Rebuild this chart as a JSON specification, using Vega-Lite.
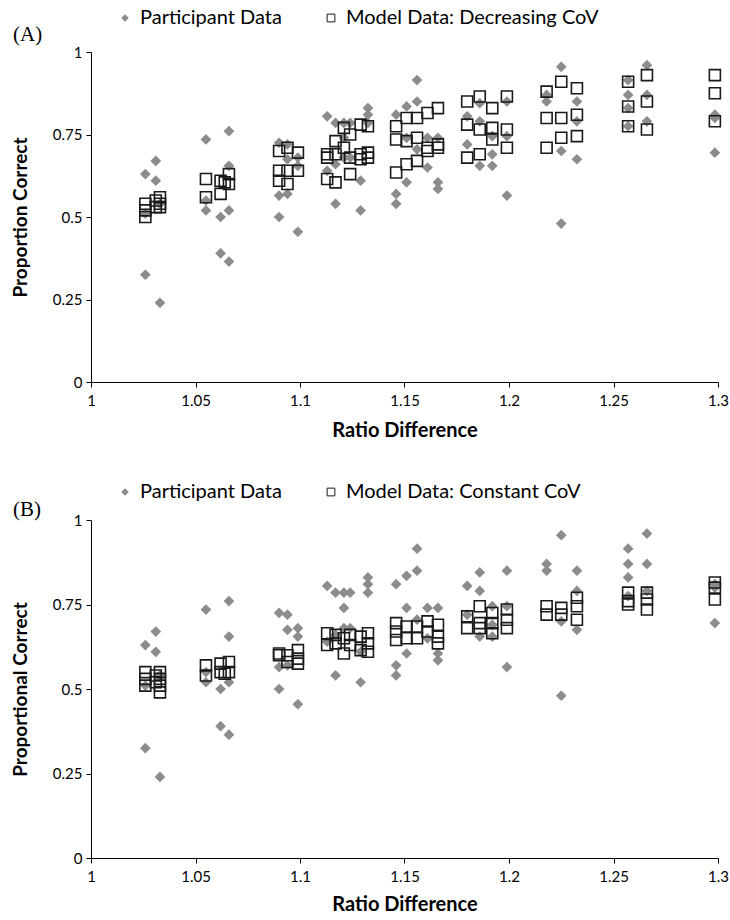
{
  "$schema": "https://vega.github.io/schema/vega-lite/v6.json",
  "padding": {"left": 11, "top": 8, "right": 10, "bottom": 4},
  "spacing": 42,
  "datasets": {
    "participants": [
      {"x":1.026,"y":0.63,"s":"Participant Data"},{"x":1.026,"y":0.325,"s":"Participant Data"},{"x":1.026,"y":0.51,"s":"Participant Data"},
      {"x":1.031,"y":0.67,"s":"Participant Data"},{"x":1.031,"y":0.61,"s":"Participant Data"},
      {"x":1.033,"y":0.24,"s":"Participant Data"},{"x":1.033,"y":0.54,"s":"Participant Data"},
      {"x":1.055,"y":0.735,"s":"Participant Data"},{"x":1.055,"y":0.52,"s":"Participant Data"},{"x":1.055,"y":0.55,"s":"Participant Data"},
      {"x":1.062,"y":0.5,"s":"Participant Data"},{"x":1.062,"y":0.39,"s":"Participant Data"},
      {"x":1.066,"y":0.76,"s":"Participant Data"},{"x":1.066,"y":0.365,"s":"Participant Data"},{"x":1.066,"y":0.52,"s":"Participant Data"},{"x":1.066,"y":0.655,"s":"Participant Data"},
      {"x":1.09,"y":0.725,"s":"Participant Data"},{"x":1.09,"y":0.565,"s":"Participant Data"},{"x":1.09,"y":0.5,"s":"Participant Data"},
      {"x":1.094,"y":0.72,"s":"Participant Data"},{"x":1.094,"y":0.675,"s":"Participant Data"},{"x":1.094,"y":0.57,"s":"Participant Data"},
      {"x":1.099,"y":0.455,"s":"Participant Data"},{"x":1.099,"y":0.68,"s":"Participant Data"},{"x":1.099,"y":0.655,"s":"Participant Data"},
      {"x":1.113,"y":0.805,"s":"Participant Data"},{"x":1.113,"y":0.64,"s":"Participant Data"},
      {"x":1.117,"y":0.785,"s":"Participant Data"},{"x":1.117,"y":0.54,"s":"Participant Data"},{"x":1.117,"y":0.66,"s":"Participant Data"},
      {"x":1.121,"y":0.785,"s":"Participant Data"},{"x":1.121,"y":0.74,"s":"Participant Data"},{"x":1.121,"y":0.68,"s":"Participant Data"},
      {"x":1.124,"y":0.785,"s":"Participant Data"},{"x":1.124,"y":0.68,"s":"Participant Data"},
      {"x":1.129,"y":0.52,"s":"Participant Data"},{"x":1.129,"y":0.61,"s":"Participant Data"},
      {"x":1.1325,"y":0.83,"s":"Participant Data"},{"x":1.1325,"y":0.81,"s":"Participant Data"},{"x":1.1325,"y":0.785,"s":"Participant Data"},
      {"x":1.146,"y":0.81,"s":"Participant Data"},{"x":1.146,"y":0.57,"s":"Participant Data"},{"x":1.146,"y":0.54,"s":"Participant Data"},
      {"x":1.151,"y":0.835,"s":"Participant Data"},{"x":1.151,"y":0.74,"s":"Participant Data"},{"x":1.151,"y":0.605,"s":"Participant Data"},
      {"x":1.156,"y":0.915,"s":"Participant Data"},{"x":1.156,"y":0.85,"s":"Participant Data"},{"x":1.156,"y":0.705,"s":"Participant Data"},
      {"x":1.161,"y":0.74,"s":"Participant Data"},{"x":1.161,"y":0.65,"s":"Participant Data"},
      {"x":1.166,"y":0.74,"s":"Participant Data"},{"x":1.166,"y":0.605,"s":"Participant Data"},{"x":1.166,"y":0.585,"s":"Participant Data"},
      {"x":1.18,"y":0.805,"s":"Participant Data"},{"x":1.18,"y":0.72,"s":"Participant Data"},
      {"x":1.186,"y":0.845,"s":"Participant Data"},{"x":1.186,"y":0.79,"s":"Participant Data"},{"x":1.186,"y":0.655,"s":"Participant Data"},
      {"x":1.192,"y":0.745,"s":"Participant Data"},{"x":1.192,"y":0.69,"s":"Participant Data"},{"x":1.192,"y":0.655,"s":"Participant Data"},
      {"x":1.199,"y":0.85,"s":"Participant Data"},{"x":1.199,"y":0.745,"s":"Participant Data"},{"x":1.199,"y":0.565,"s":"Participant Data"},
      {"x":1.218,"y":0.87,"s":"Participant Data"},{"x":1.218,"y":0.85,"s":"Participant Data"},
      {"x":1.225,"y":0.955,"s":"Participant Data"},{"x":1.225,"y":0.7,"s":"Participant Data"},{"x":1.225,"y":0.48,"s":"Participant Data"},
      {"x":1.2325,"y":0.85,"s":"Participant Data"},{"x":1.2325,"y":0.79,"s":"Participant Data"},{"x":1.2325,"y":0.675,"s":"Participant Data"},
      {"x":1.257,"y":0.915,"s":"Participant Data"},{"x":1.257,"y":0.87,"s":"Participant Data"},{"x":1.257,"y":0.83,"s":"Participant Data"},{"x":1.257,"y":0.775,"s":"Participant Data"},
      {"x":1.266,"y":0.96,"s":"Participant Data"},{"x":1.266,"y":0.87,"s":"Participant Data"},{"x":1.266,"y":0.79,"s":"Participant Data"},
      {"x":1.2985,"y":0.81,"s":"Participant Data"},{"x":1.2985,"y":0.8,"s":"Participant Data"},{"x":1.2985,"y":0.695,"s":"Participant Data"}
    ],
    "modelA": [
      {"x":1.026,"y":0.54,"s":"Model Data: Decreasing CoV"},{"x":1.026,"y":0.52,"s":"Model Data: Decreasing CoV"},{"x":1.026,"y":0.5,"s":"Model Data: Decreasing CoV"},
      {"x":1.031,"y":0.55,"s":"Model Data: Decreasing CoV"},{"x":1.031,"y":0.53,"s":"Model Data: Decreasing CoV"},
      {"x":1.033,"y":0.56,"s":"Model Data: Decreasing CoV"},{"x":1.033,"y":0.53,"s":"Model Data: Decreasing CoV"},{"x":1.033,"y":0.54,"s":"Model Data: Decreasing CoV"},
      {"x":1.055,"y":0.615,"s":"Model Data: Decreasing CoV"},{"x":1.055,"y":0.56,"s":"Model Data: Decreasing CoV"},
      {"x":1.062,"y":0.61,"s":"Model Data: Decreasing CoV"},{"x":1.062,"y":0.57,"s":"Model Data: Decreasing CoV"},
      {"x":1.064,"y":0.605,"s":"Model Data: Decreasing CoV"},
      {"x":1.066,"y":0.63,"s":"Model Data: Decreasing CoV"},{"x":1.066,"y":0.6,"s":"Model Data: Decreasing CoV"},
      {"x":1.09,"y":0.7,"s":"Model Data: Decreasing CoV"},{"x":1.09,"y":0.64,"s":"Model Data: Decreasing CoV"},{"x":1.09,"y":0.61,"s":"Model Data: Decreasing CoV"},
      {"x":1.094,"y":0.71,"s":"Model Data: Decreasing CoV"},{"x":1.094,"y":0.64,"s":"Model Data: Decreasing CoV"},{"x":1.094,"y":0.6,"s":"Model Data: Decreasing CoV"},
      {"x":1.099,"y":0.695,"s":"Model Data: Decreasing CoV"},{"x":1.099,"y":0.64,"s":"Model Data: Decreasing CoV"},
      {"x":1.113,"y":0.69,"s":"Model Data: Decreasing CoV"},{"x":1.113,"y":0.68,"s":"Model Data: Decreasing CoV"},{"x":1.113,"y":0.615,"s":"Model Data: Decreasing CoV"},
      {"x":1.117,"y":0.73,"s":"Model Data: Decreasing CoV"},{"x":1.117,"y":0.69,"s":"Model Data: Decreasing CoV"},{"x":1.117,"y":0.605,"s":"Model Data: Decreasing CoV"},
      {"x":1.121,"y":0.77,"s":"Model Data: Decreasing CoV"},{"x":1.121,"y":0.71,"s":"Model Data: Decreasing CoV"},
      {"x":1.124,"y":0.75,"s":"Model Data: Decreasing CoV"},{"x":1.124,"y":0.68,"s":"Model Data: Decreasing CoV"},{"x":1.124,"y":0.63,"s":"Model Data: Decreasing CoV"},
      {"x":1.129,"y":0.78,"s":"Model Data: Decreasing CoV"},{"x":1.129,"y":0.69,"s":"Model Data: Decreasing CoV"},{"x":1.129,"y":0.675,"s":"Model Data: Decreasing CoV"},
      {"x":1.1325,"y":0.775,"s":"Model Data: Decreasing CoV"},{"x":1.1325,"y":0.695,"s":"Model Data: Decreasing CoV"},{"x":1.1325,"y":0.68,"s":"Model Data: Decreasing CoV"},
      {"x":1.146,"y":0.775,"s":"Model Data: Decreasing CoV"},{"x":1.146,"y":0.735,"s":"Model Data: Decreasing CoV"},{"x":1.146,"y":0.635,"s":"Model Data: Decreasing CoV"},
      {"x":1.151,"y":0.8,"s":"Model Data: Decreasing CoV"},{"x":1.151,"y":0.73,"s":"Model Data: Decreasing CoV"},{"x":1.151,"y":0.66,"s":"Model Data: Decreasing CoV"},
      {"x":1.156,"y":0.8,"s":"Model Data: Decreasing CoV"},{"x":1.156,"y":0.74,"s":"Model Data: Decreasing CoV"},{"x":1.156,"y":0.67,"s":"Model Data: Decreasing CoV"},
      {"x":1.161,"y":0.815,"s":"Model Data: Decreasing CoV"},{"x":1.161,"y":0.71,"s":"Model Data: Decreasing CoV"},{"x":1.161,"y":0.7,"s":"Model Data: Decreasing CoV"},
      {"x":1.166,"y":0.83,"s":"Model Data: Decreasing CoV"},{"x":1.166,"y":0.72,"s":"Model Data: Decreasing CoV"},{"x":1.166,"y":0.71,"s":"Model Data: Decreasing CoV"},
      {"x":1.18,"y":0.85,"s":"Model Data: Decreasing CoV"},{"x":1.18,"y":0.78,"s":"Model Data: Decreasing CoV"},{"x":1.18,"y":0.68,"s":"Model Data: Decreasing CoV"},
      {"x":1.186,"y":0.865,"s":"Model Data: Decreasing CoV"},{"x":1.186,"y":0.765,"s":"Model Data: Decreasing CoV"},{"x":1.186,"y":0.69,"s":"Model Data: Decreasing CoV"},
      {"x":1.192,"y":0.83,"s":"Model Data: Decreasing CoV"},{"x":1.192,"y":0.77,"s":"Model Data: Decreasing CoV"},{"x":1.192,"y":0.735,"s":"Model Data: Decreasing CoV"},
      {"x":1.199,"y":0.865,"s":"Model Data: Decreasing CoV"},{"x":1.199,"y":0.765,"s":"Model Data: Decreasing CoV"},{"x":1.199,"y":0.71,"s":"Model Data: Decreasing CoV"},
      {"x":1.218,"y":0.88,"s":"Model Data: Decreasing CoV"},{"x":1.218,"y":0.8,"s":"Model Data: Decreasing CoV"},{"x":1.218,"y":0.71,"s":"Model Data: Decreasing CoV"},
      {"x":1.225,"y":0.91,"s":"Model Data: Decreasing CoV"},{"x":1.225,"y":0.8,"s":"Model Data: Decreasing CoV"},{"x":1.225,"y":0.74,"s":"Model Data: Decreasing CoV"},
      {"x":1.2325,"y":0.89,"s":"Model Data: Decreasing CoV"},{"x":1.2325,"y":0.81,"s":"Model Data: Decreasing CoV"},{"x":1.2325,"y":0.745,"s":"Model Data: Decreasing CoV"},
      {"x":1.257,"y":0.91,"s":"Model Data: Decreasing CoV"},{"x":1.257,"y":0.835,"s":"Model Data: Decreasing CoV"},{"x":1.257,"y":0.775,"s":"Model Data: Decreasing CoV"},
      {"x":1.266,"y":0.93,"s":"Model Data: Decreasing CoV"},{"x":1.266,"y":0.85,"s":"Model Data: Decreasing CoV"},{"x":1.266,"y":0.765,"s":"Model Data: Decreasing CoV"},
      {"x":1.2985,"y":0.93,"s":"Model Data: Decreasing CoV"},{"x":1.2985,"y":0.875,"s":"Model Data: Decreasing CoV"},{"x":1.2985,"y":0.79,"s":"Model Data: Decreasing CoV"}
    ],
    "modelB": [
      {"x":1.026,"y":0.55,"s":"Model Data: Constant CoV"},{"x":1.026,"y":0.53,"s":"Model Data: Constant CoV"},{"x":1.026,"y":0.51,"s":"Model Data: Constant CoV"},
      {"x":1.031,"y":0.54,"s":"Model Data: Constant CoV"},{"x":1.031,"y":0.52,"s":"Model Data: Constant CoV"},
      {"x":1.033,"y":0.55,"s":"Model Data: Constant CoV"},{"x":1.033,"y":0.53,"s":"Model Data: Constant CoV"},{"x":1.033,"y":0.51,"s":"Model Data: Constant CoV"},{"x":1.033,"y":0.49,"s":"Model Data: Constant CoV"},
      {"x":1.055,"y":0.57,"s":"Model Data: Constant CoV"},{"x":1.055,"y":0.54,"s":"Model Data: Constant CoV"},
      {"x":1.062,"y":0.575,"s":"Model Data: Constant CoV"},{"x":1.062,"y":0.55,"s":"Model Data: Constant CoV"},
      {"x":1.064,"y":0.545,"s":"Model Data: Constant CoV"},
      {"x":1.066,"y":0.58,"s":"Model Data: Constant CoV"},{"x":1.066,"y":0.55,"s":"Model Data: Constant CoV"},
      {"x":1.09,"y":0.605,"s":"Model Data: Constant CoV"},{"x":1.09,"y":0.6,"s":"Model Data: Constant CoV"},
      {"x":1.094,"y":0.6,"s":"Model Data: Constant CoV"},{"x":1.094,"y":0.58,"s":"Model Data: Constant CoV"},
      {"x":1.099,"y":0.615,"s":"Model Data: Constant CoV"},{"x":1.099,"y":0.59,"s":"Model Data: Constant CoV"},{"x":1.099,"y":0.575,"s":"Model Data: Constant CoV"},
      {"x":1.113,"y":0.665,"s":"Model Data: Constant CoV"},{"x":1.113,"y":0.63,"s":"Model Data: Constant CoV"},
      {"x":1.117,"y":0.66,"s":"Model Data: Constant CoV"},{"x":1.117,"y":0.635,"s":"Model Data: Constant CoV"},
      {"x":1.121,"y":0.65,"s":"Model Data: Constant CoV"},{"x":1.121,"y":0.605,"s":"Model Data: Constant CoV"},
      {"x":1.124,"y":0.66,"s":"Model Data: Constant CoV"},{"x":1.124,"y":0.63,"s":"Model Data: Constant CoV"},
      {"x":1.129,"y":0.655,"s":"Model Data: Constant CoV"},{"x":1.129,"y":0.615,"s":"Model Data: Constant CoV"},
      {"x":1.1325,"y":0.665,"s":"Model Data: Constant CoV"},{"x":1.1325,"y":0.635,"s":"Model Data: Constant CoV"},{"x":1.1325,"y":0.61,"s":"Model Data: Constant CoV"},
      {"x":1.146,"y":0.695,"s":"Model Data: Constant CoV"},{"x":1.146,"y":0.67,"s":"Model Data: Constant CoV"},{"x":1.146,"y":0.645,"s":"Model Data: Constant CoV"},
      {"x":1.151,"y":0.685,"s":"Model Data: Constant CoV"},{"x":1.151,"y":0.65,"s":"Model Data: Constant CoV"},
      {"x":1.156,"y":0.685,"s":"Model Data: Constant CoV"},{"x":1.156,"y":0.65,"s":"Model Data: Constant CoV"},
      {"x":1.161,"y":0.7,"s":"Model Data: Constant CoV"},{"x":1.161,"y":0.67,"s":"Model Data: Constant CoV"},
      {"x":1.166,"y":0.69,"s":"Model Data: Constant CoV"},{"x":1.166,"y":0.655,"s":"Model Data: Constant CoV"},{"x":1.166,"y":0.635,"s":"Model Data: Constant CoV"},
      {"x":1.18,"y":0.715,"s":"Model Data: Constant CoV"},{"x":1.18,"y":0.68,"s":"Model Data: Constant CoV"},
      {"x":1.186,"y":0.745,"s":"Model Data: Constant CoV"},{"x":1.186,"y":0.695,"s":"Model Data: Constant CoV"},{"x":1.186,"y":0.68,"s":"Model Data: Constant CoV"},
      {"x":1.192,"y":0.725,"s":"Model Data: Constant CoV"},{"x":1.192,"y":0.695,"s":"Model Data: Constant CoV"},{"x":1.192,"y":0.665,"s":"Model Data: Constant CoV"},
      {"x":1.199,"y":0.735,"s":"Model Data: Constant CoV"},{"x":1.199,"y":0.705,"s":"Model Data: Constant CoV"},{"x":1.199,"y":0.68,"s":"Model Data: Constant CoV"},
      {"x":1.218,"y":0.745,"s":"Model Data: Constant CoV"},{"x":1.218,"y":0.72,"s":"Model Data: Constant CoV"},
      {"x":1.225,"y":0.74,"s":"Model Data: Constant CoV"},{"x":1.225,"y":0.72,"s":"Model Data: Constant CoV"},
      {"x":1.2325,"y":0.77,"s":"Model Data: Constant CoV"},{"x":1.2325,"y":0.745,"s":"Model Data: Constant CoV"},{"x":1.2325,"y":0.705,"s":"Model Data: Constant CoV"},
      {"x":1.257,"y":0.785,"s":"Model Data: Constant CoV"},{"x":1.257,"y":0.76,"s":"Model Data: Constant CoV"},{"x":1.257,"y":0.75,"s":"Model Data: Constant CoV"},
      {"x":1.266,"y":0.785,"s":"Model Data: Constant CoV"},{"x":1.266,"y":0.765,"s":"Model Data: Constant CoV"},{"x":1.266,"y":0.735,"s":"Model Data: Constant CoV"},
      {"x":1.2985,"y":0.815,"s":"Model Data: Constant CoV"},{"x":1.2985,"y":0.8,"s":"Model Data: Constant CoV"},{"x":1.2985,"y":0.765,"s":"Model Data: Constant CoV"}
    ]
  },
  "vconcat": [
    {
      "width": 627,
      "height": 330,
      "title": {"text": "(A)", "font": "Liberation Serif", "fontSize": 21, "fontWeight": "normal", "anchor": "start", "frame": "group", "dx": -78, "offset": -37, "color": "#000"},
      "layer": [
        {
          "data": {"name": "participants"},
          "mark": {"type": "point", "filled": true, "size": 115, "opacity": 1, "strokeWidth": 0},
          "encoding": {
            "x": {"field": "x", "type": "quantitative", "scale": {"domain": [1, 1.3], "nice": false, "zero": false}, "axis": {"values": [1, 1.05, 1.1, 1.15, 1.2, 1.25, 1.3], "labelExpr": "'' + datum.value", "title": "Ratio Difference"}},
            "y": {"field": "y", "type": "quantitative", "scale": {"domain": [0, 1], "nice": false}, "axis": {"values": [0, 0.25, 0.5, 0.75, 1], "labelExpr": "'' + datum.value", "title": "Proportion Correct"}},
            "shape": {"field": "s", "type": "nominal", "scale": {"domain": ["Participant Data", "Model Data: Decreasing CoV"], "range": ["diamond", "square"]}, "legend": {"title": null, "legendX": 24, "legendY": -44}},
            "fill": {"field": "s", "type": "nominal", "scale": {"domain": ["Participant Data", "Model Data: Decreasing CoV"], "range": ["#8c8c8c", "transparent"]}, "legend": {"title": null, "legendX": 24, "legendY": -44}},
            "stroke": {"field": "s", "type": "nominal", "scale": {"domain": ["Participant Data", "Model Data: Decreasing CoV"], "range": ["transparent", "#1a1a1a"]}, "legend": {"title": null, "legendX": 24, "legendY": -44}}
          }
        },
        {
          "data": {"name": "modelA"},
          "mark": {"type": "point", "filled": false, "size": 121, "opacity": 1, "strokeWidth": 1.6},
          "encoding": {
            "x": {"field": "x", "type": "quantitative"},
            "y": {"field": "y", "type": "quantitative"},
            "shape": {"field": "s", "type": "nominal", "legend": {"title": null, "legendX": 24, "legendY": -44}},
            "fill": {"field": "s", "type": "nominal", "legend": {"title": null, "legendX": 24, "legendY": -44}},
            "stroke": {"field": "s", "type": "nominal", "legend": {"title": null, "legendX": 24, "legendY": -44}}
          }
        }
      ]
    },
    {
      "width": 627,
      "height": 338,
      "title": {"text": "(B)", "font": "Liberation Serif", "fontSize": 21, "fontWeight": "normal", "anchor": "start", "frame": "group", "dx": -78, "offset": -38, "color": "#000"},
      "layer": [
        {
          "data": {"name": "participants"},
          "mark": {"type": "point", "filled": true, "size": 115, "opacity": 1, "strokeWidth": 0},
          "encoding": {
            "x": {"field": "x", "type": "quantitative", "scale": {"domain": [1, 1.3], "nice": false, "zero": false}, "axis": {"values": [1, 1.05, 1.1, 1.15, 1.2, 1.25, 1.3], "labelExpr": "'' + datum.value", "title": "Ratio Difference", "titlePadding": 10}},
            "y": {"field": "y", "type": "quantitative", "scale": {"domain": [0, 1], "nice": false}, "axis": {"values": [0, 0.25, 0.5, 0.75, 1], "labelExpr": "'' + datum.value", "title": "Proportional Correct"}},
            "shape": {"field": "s", "type": "nominal", "scale": {"domain": ["Participant Data", "Model Data: Constant CoV"], "range": ["diamond", "square"]}, "legend": {"title": null, "legendX": 24, "legendY": -38}},
            "fill": {"field": "s", "type": "nominal", "scale": {"domain": ["Participant Data", "Model Data: Constant CoV"], "range": ["#8c8c8c", "transparent"]}, "legend": {"title": null, "legendX": 24, "legendY": -38}},
            "stroke": {"field": "s", "type": "nominal", "scale": {"domain": ["Participant Data", "Model Data: Constant CoV"], "range": ["transparent", "#1a1a1a"]}, "legend": {"title": null, "legendX": 24, "legendY": -38}}
          }
        },
        {
          "data": {"name": "modelB"},
          "mark": {"type": "point", "filled": false, "size": 121, "opacity": 1, "strokeWidth": 1.6},
          "encoding": {
            "x": {"field": "x", "type": "quantitative"},
            "y": {"field": "y", "type": "quantitative"},
            "shape": {"field": "s", "type": "nominal", "legend": {"title": null, "legendX": 24, "legendY": -38}},
            "fill": {"field": "s", "type": "nominal", "legend": {"title": null, "legendX": 24, "legendY": -38}},
            "stroke": {"field": "s", "type": "nominal", "legend": {"title": null, "legendX": 24, "legendY": -38}}
          }
        }
      ]
    }
  ],
  "resolve": {
    "scale": {"x": "independent", "y": "independent", "shape": "independent", "fill": "independent", "stroke": "independent"},
    "legend": {"shape": "independent", "fill": "independent", "stroke": "independent"}
  },
  "config": {
    "view": {"stroke": null},
    "font": "Lato",
    "axis": {
      "grid": false,
      "domainColor": "#000",
      "domainWidth": 1,
      "tickColor": "#000",
      "tickSize": 5,
      "labelColor": "#000",
      "titleColor": "#000",
      "labelFont": "Lato",
      "labelFontSize": 15,
      "labelFlush": false,
      "titleFont": "Lato",
      "titleFontWeight": "bold"
    },
    "axisY": {"titlePadding": 22, "labelPadding": 4, "titleFontSize": 19},
    "axisX": {"titlePadding": 12, "labelPadding": 6, "titleFontSize": 20},
    "legend": {
      "orient": "none",
      "direction": "horizontal",
      "labelFont": "Lato",
      "labelFontSize": 20,
      "labelColor": "#000",
      "labelLimit": 400,
      "symbolSize": 60,
      "symbolStrokeWidth": 1,
      "columnPadding": 39,
      "labelOffset": 5
    }
  }
}
